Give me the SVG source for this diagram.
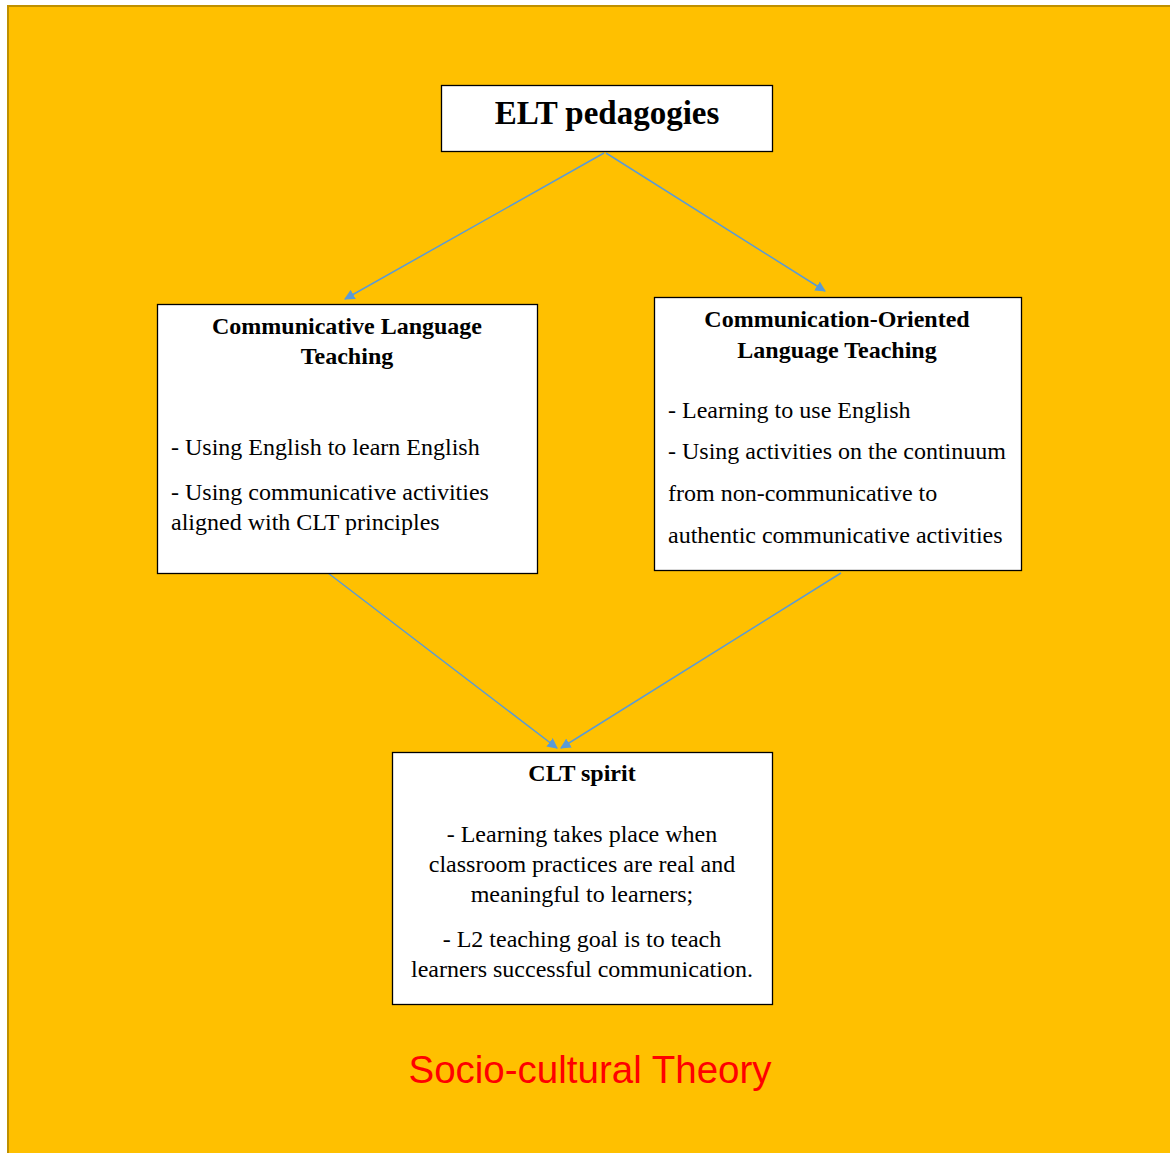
<svg xmlns="http://www.w3.org/2000/svg" width="1170" height="1153" viewBox="0 0 1170 1153">
  <style>
    .box { fill: #ffffff; stroke: #000000; stroke-width: 1.3; }
    .title { font-family: "Liberation Serif", "Times New Roman", serif; font-weight: bold; font-size: 24px; fill: #000; }
    .body { font-family: "Liberation Serif", "Times New Roman", serif; font-size: 24px; fill: #000; }
    .mid { text-anchor: middle; }
    .link { fill: none; stroke: #5B9BD5; stroke-width: 1.5; marker-end: url(#head); }
  </style>
  <defs>
    <marker id="head" viewBox="0 0 10 10" refX="9" refY="5" markerWidth="7" markerHeight="7" markerUnits="strokeWidth" orient="auto">
      <path d="M0,0 L10,5 L0,10 z" fill="#5B9BD5"/>
    </marker>
  </defs>

  <!-- page background -->
  <rect x="0" y="0" width="1170" height="1153" fill="#ffffff"/>
  <rect x="8" y="6" width="1175" height="1160" fill="#FFC000" stroke="#BF9000" stroke-width="2"/>

  <!-- connectors -->
  <g id="connectors">
    <line class="link" x1="604" y1="153" x2="345" y2="299"/>
    <line class="link" x1="606" y1="153" x2="825" y2="291"/>
    <line class="link" x1="328" y1="573" x2="557" y2="748"/>
    <line class="link" x1="841" y1="573" x2="561" y2="748"/>
  </g>

  <g id="elt-pedagogies">
    <rect class="box" x="441.5" y="85.5" width="331" height="66"/>
    <text class="title mid" x="607" y="124" style="font-size:33px">ELT pedagogies</text>
  </g>

  <g id="clt">
    <rect class="box" x="157.5" y="304.5" width="380" height="269"/>
    <text class="title mid" x="347" y="334">Communicative Language</text>
    <text class="title mid" x="347" y="364">Teaching</text>
    <text class="body" x="171" y="455">- Using English to learn English</text>
    <text class="body" x="171" y="500">- Using communicative activities</text>
    <text class="body" x="171" y="530">aligned with CLT principles</text>
  </g>

  <g id="colt">
    <rect class="box" x="654.5" y="297.5" width="367" height="273"/>
    <text class="title mid" x="837" y="327">Communication-Oriented</text>
    <text class="title mid" x="837" y="358">Language Teaching</text>
    <text class="body" x="668" y="418">- Learning to use English</text>
    <text class="body" x="668" y="459">- Using activities on the continuum</text>
    <text class="body" x="668" y="501">from non-communicative to</text>
    <text class="body" x="668" y="543">authentic communicative activities</text>
  </g>

  <g id="clt-spirit">
    <rect class="box" x="392.5" y="752.5" width="380" height="252"/>
    <text class="title mid" x="582" y="781">CLT spirit</text>
    <text class="body mid" x="582" y="842">- Learning takes place when</text>
    <text class="body mid" x="582" y="872">classroom practices are real and</text>
    <text class="body mid" x="582" y="902">meaningful to learners;</text>
    <text class="body mid" x="582" y="947">- L2 teaching goal is to teach</text>
    <text class="body mid" x="582" y="977">learners successful communication.</text>
  </g>

  <g id="theory">
    <text x="590" y="1083" text-anchor="middle" font-family="Liberation Sans, Arial, sans-serif" font-size="38.5" fill="#FF0000">Socio-cultural Theory</text>
  </g>
</svg>
